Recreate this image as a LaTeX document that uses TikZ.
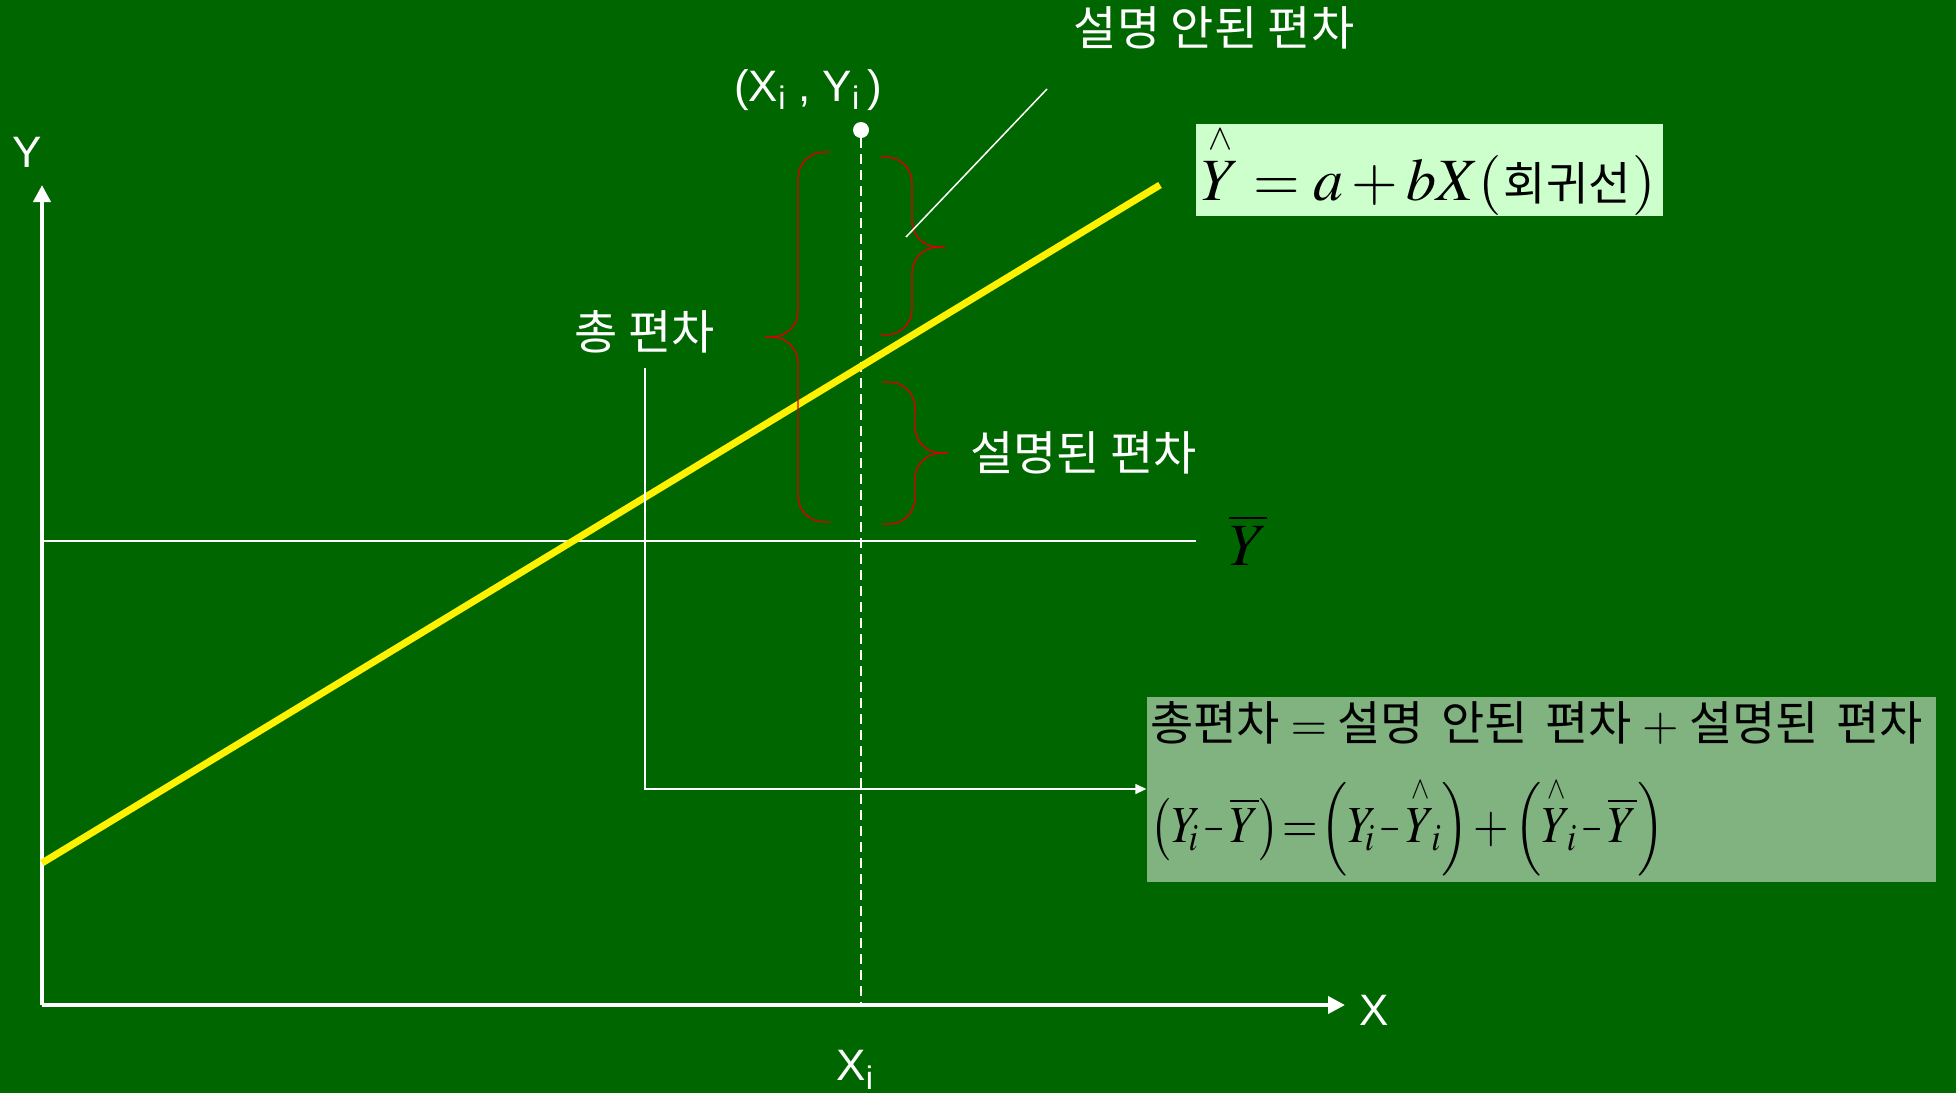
\documentclass[tikz,border=0pt]{standalone}
\usepackage{amsmath}
\usepackage{graphicx}
\usepackage{mathptmx}
\usepackage{fontspec}
\setmainfont{Liberation Sans}
\newfontfamily\kr{Noto Sans CJK KR}
\usetikzlibrary{arrows.meta,positioning}

\definecolor{board}{HTML}{006600}
\definecolor{boxlight}{HTML}{CCFFCC}
\definecolor{boxdark}{HTML}{80B380}
\newcommand{\uphat}[1]{\overset{\scriptscriptstyle\wedge}{#1}}
\newcommand{\nminus}{\mathbin{\scalebox{0.6}[1]{$-$}}}
\newcommand{\tucki}{_{\mkern-2mu i}}

\begin{document}
\begin{tikzpicture}[x=1pt, y=-1pt,
lbl/.style={text=white, inner sep=0pt, font=\fontsize{44}{48}\selectfont},
kor/.style={text=white, inner sep=0pt, font=\kr\fontsize{47}{52}\selectfont},
axis/.style={white, line width=4pt, -{Triangle[length=17pt, width=17pt]}},
guide/.style={white, line width=1.5pt},
brc/.style={red!85!black, line width=1.4pt, rounded corners=26pt},
regline/.style={yellow, line width=7pt},
eq/.style={text=black, font=\fontsize{60}{66}\selectfont}
]
\fill[board] (0,0) rectangle (1956,1093);
\useasboundingbox (0,0) rectangle (1956,1093);

% axes
\coordinate (o) at (42,1005);
\coordinate (ytop) at (42,185);
\coordinate (xend) at (1345,1005);
\draw[axis] (o) -- (ytop);
\draw[axis] (o) -- (xend);
\node[lbl] (ylbl) at (27,152) {Y};
\node[lbl] (xlbl) at (1374,1010) {X};

% observed point
\node[circle, fill=white, inner sep=0pt, minimum size=16pt] (pt) at (861,130) {};
\node[lbl] (ptlbl) at (808,90) {(X\textsubscript{i} , Y\textsubscript{i}\,)};
\node[lbl] (xi) at (855,1070) {X\textsubscript{i}};
\coordinate (xifoot) at (861,1005);
\draw[white, line width=2pt, dash pattern=on 10pt off 6pt] (pt) -- (xifoot);

% mean line
\coordinate (ymean) at (42,541);
\coordinate (ymeanend) at (1196,541);
\draw[guide] (ymean) -- (ymeanend);
\node[eq, inner sep=0pt] (ybar) at (1248,540) {$\overline{Y}$};

% regression line
\coordinate (rega) at (42,863);
\coordinate (regb) at (1160,185);
\draw[regline] (rega) -- (regb);

% braces
\draw[brc] (830,152) -- (798,152) -- (798,337) -- (765,337);
\draw[brc] (765,337) -- (798,337) -- (798,522) -- (830,522);
\draw[brc] (880,157) -- (912,157) -- (912,247) -- (945,247);
\draw[brc] (945,247) -- (912,247) -- (912,335) -- (880,335);
\draw[brc] (882,382) -- (915,382) -- (915,453) -- (948,453);
\draw[brc] (948,453) -- (915,453) -- (915,524) -- (882,524);

% labels
\node[kor] (unexp) at (1214,28) {설명 안된 편차};
\node[kor, anchor=west] (expl) at (970,453) {설명된 편차};
\node[kor] (total) at (645,332) {총 편차};
\coordinate (ubtip) at (906,237);
\coordinate (unexpfoot) at (1047,89);
\draw[guide] (ubtip) -- (unexpfoot);

% equations
\node[eq, fill=boxlight, minimum width=467pt, minimum height=80pt, inner sep=0pt] (reg) at (1429,170)
  {$\uphat{Y} = a + bX($\kern2pt{\kr\fontsize{46}{52}\selectfont 회귀선}\kern2pt$)$};
\node[eq, fill=boxdark, minimum width=789pt, minimum height=185pt, text width=781pt, align=left, inner xsep=4pt, inner ysep=2pt,
  font=\fontsize{52}{62}\selectfont] (dec) at (1541,789)
  {{\kr\fontsize{47}{52}\selectfont 총편차$\;=\;$설명 안된 편차$\;+\;$설명된 편차}\\[30pt]
  \scalebox{0.88}[1]{$\medmuskip=2mu\thickmuskip=1mu
  \bigl(Y\tucki \nminus \overline{Y}\bigr) = \Bigl(Y\tucki \nminus \uphat{Y}\tucki\Bigr) + \Bigl(\uphat{Y}\tucki \nminus \overline{Y}\Bigr)$}};

\draw[guide, -{Triangle[length=11pt, width=10pt]}, shorten <=14pt] (total.south) |- (dec.west);
\end{tikzpicture}
\end{document}
